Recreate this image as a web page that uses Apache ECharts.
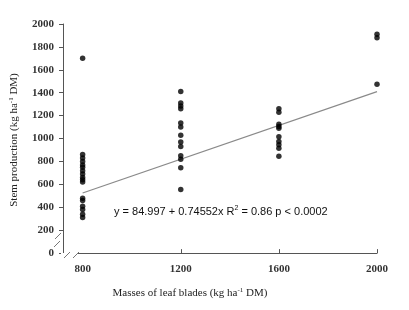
<!DOCTYPE html>
<html>
<head>
<meta charset="utf-8">
<script src="https://cdn.jsdelivr.net/npm/echarts@6/dist/echarts.min.js"></script>
<style>
  html, body { margin: 0; padding: 0; background: #fff; }
  #chart { width: 409px; height: 310px; }
</style>
</head>
<body>
<div id="chart"></div>
<script>
// stem production (kg/ha DM) per mass of leaf blades
const leafMass = [800, 1200, 1600, 2000];
const stem800 = [1700, 860, 830, 800, 770, 750, 720, 690, 660, 640, 620, 480, 460, 410, 380, 340, 310];
const stem1200 = [1410, 1310, 1285, 1260, 1135, 1100, 1030, 970, 930, 850, 820, 745, 555];
const stem1600 = [1260, 1230, 1125, 1105, 1090, 1015, 975, 945, 915, 845];
const stem2000 = [1910, 1880, 1475];
const fitLine = [[800, 525], [2000, 1410]];
const yTicks = [0, 200, 400, 600, 800, 1000, 1200, 1400, 1600, 1800, 2000];
const eqText = "y = 84.997 + 0.74552x R{s|2} = 0.86 p < 0.0002";

const groups = [stem800, stem1200, stem1600, stem2000];
const points = [];
groups.forEach((vals, i) => {
  vals.forEach((v) => points.push([leafMass[i], v]));
});

const chart = echarts.init(document.getElementById("chart"));

const serif = "'Liberation Serif', 'DejaVu Serif', serif";
const axisCol = "#555";
const plain = (v) => String(v);

chart.setOption({
  animation: false,
  grid: { left: 57, right: 32, top: 24, bottom: 54 },
  xAxis: {
    type: "value",
    min: 720,
    max: 2000,
    name: "{a|Masses of leaf blades (kg ha}{s|-1}{a| DM)}",
    nameLocation: "middle",
    nameGap: 31,
    nameTextStyle: {
      padding: [0, 60, 0, 0],
      rich: {
        a: { fontFamily: serif, fontSize: 11, color: "#222" },
        s: { fontFamily: serif, fontSize: 7, color: "#222", verticalAlign: "top", padding: [0, 0, 6, 0] },
      },
    },
    axisLine: { show: true, lineStyle: { color: axisCol, width: 1 } },
    axisTick: { show: true, inside: true, length: 4, customValues: [1200, 1600, 2000], lineStyle: { color: axisCol } },
    axisLabel: { customValues: leafMass, formatter: plain, fontFamily: serif, fontSize: 11, fontWeight: "bold", color: "#333", margin: 8 },
    splitLine: { show: false },
  },
  yAxis: {
    type: "value",
    min: -25,
    max: 2000,
    name: "{a|Stem production (kg ha}{s|-1}{a| DM)}",
    nameLocation: "middle",
    nameGap: 42,
    nameTextStyle: {
      rich: {
        a: { fontFamily: serif, fontSize: 11, color: "#222" },
        s: { fontFamily: serif, fontSize: 7, color: "#222", verticalAlign: "top", padding: [0, 0, 6, 0] },
      },
    },
    axisLine: { show: true, lineStyle: { color: axisCol, width: 1 } },
    axisTick: { show: true, length: 4, customValues: yTicks, lineStyle: { color: axisCol } },
    axisLabel: { customValues: yTicks, formatter: plain, fontFamily: serif, fontSize: 11, fontWeight: "bold", color: "#333", margin: 9 },
    splitLine: { show: false },
  },
  series: [
    {
      type: "line",
      data: fitLine,
      symbol: "none",
      lineStyle: { color: "#8a8a8a", width: 1.2 },
      z: 1,
    },
    {
      type: "scatter",
      data: points,
      symbol: "circle",
      symbolSize: 5.5,
      itemStyle: { color: "#000" },
      z: 3,
    },
  ],
  graphic: [
    // axis break marks
    { type: "rect", shape: { x: 55, y: 236, width: 4, height: 13 }, style: { fill: "#fff" }, z: 10 },
    { type: "rect", shape: { x: 61, y: 253, width: 16, height: 5 }, style: { fill: "#fff" }, z: 10 },
    { type: "line", shape: { x1: 55, y1: 239, x2: 61, y2: 233 }, style: { stroke: "#777", lineWidth: 1 }, z: 11 },
    { type: "line", shape: { x1: 54, y1: 247, x2: 60, y2: 241 }, style: { stroke: "#777", lineWidth: 1 }, z: 11 },
    { type: "line", shape: { x1: 64, y1: 258, x2: 70, y2: 252 }, style: { stroke: "#777", lineWidth: 1 }, z: 11 },
    { type: "line", shape: { x1: 73, y1: 258, x2: 79, y2: 252 }, style: { stroke: "#777", lineWidth: 1 }, z: 11 },
    {
      type: "text",
      left: 114,
      top: 205,
      z: 12,
      style: {
        text: eqText,
        fontFamily: "'Liberation Sans', Arial, sans-serif",
        fontSize: 11,
        fill: "#111",
        rich: {
          s: { fontSize: 7, fill: "#111", verticalAlign: "top", padding: [0, 0, 6, 0] },
        },
      },
    },
  ],
});
</script>
</body>
</html>
